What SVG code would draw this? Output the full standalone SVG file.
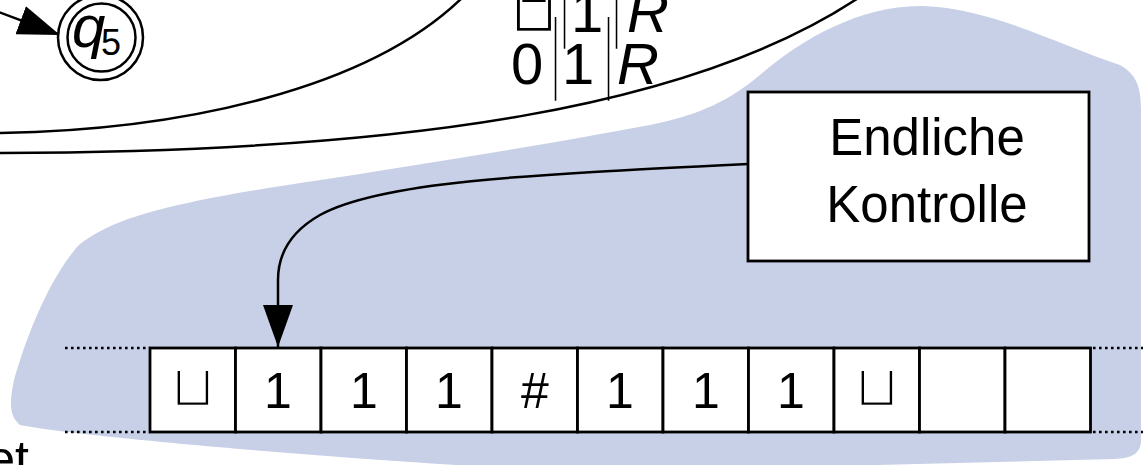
<svg xmlns="http://www.w3.org/2000/svg" width="1143" height="465" viewBox="0 0 1143 465">
<style>
.ln{fill:none;stroke:#000;stroke-width:2.5}
.cell{fill:#fff;stroke:#000;stroke-width:2.8}
.t{font-family:"Liberation Sans",Arial,sans-serif;fill:#000}
.dot{stroke:#000;stroke-width:2.6;stroke-dasharray:2.6 3.4;fill:none}
.cup{font-family:"DejaVu Sans",sans-serif;fill:#000;stroke:#fff;stroke-width:2.4}
.bar{font-family:"Inter",sans-serif;font-weight:100}
</style>
<defs>
<marker id="ah" viewBox="0 0 42 30" refX="42" refY="15" markerWidth="42" markerHeight="30" markerUnits="userSpaceOnUse" orient="auto">
<path d="M0,0 L42,15 L0,30 z" fill="#000"/>
</marker>
</defs>
<rect width="1143" height="465" fill="#fff"/>
<path id="blob" d="M20,425 C8,415 10,400 14,380 C24,345 45,285 77,247 C110,218 170,203 300,183 C420,165 560,142 650,125 C700,115 730,100 760,75 C800,40 860,5 923,6 C990,8 1060,45 1120,65 C1138,75 1141,90 1141,110 L1141,440 C1141,455 1130,458 1115,459 L600,472 C450,468 100,440 20,425 Z" fill="#c8d0e7"/>
<g id="connectors">
<path class="ln" d="M0,133 C180,130 370,90 465,-5"/>
<path class="ln" d="M-2,153 C400,152 700,110 870,-10"/>
<path class="ln" d="M-20,5 L60,35" marker-end="url(#ah)"/>
<path class="ln" d="M748,164 C520,175 380,182 320,215 C290,232 278,255 278,280 L278,347" marker-end="url(#ah)"/>
</g>
<g id="q5">
<circle cx="100.5" cy="37.5" r="42.5" fill="#fff" stroke="#000" stroke-width="2.5"/>
<circle cx="101.5" cy="37.5" r="34" fill="none" stroke="#000" stroke-width="2.5"/>
<text class="t" x="72" y="47" font-size="60" font-style="italic">q<tspan font-size="36" font-style="normal" x="101" dy="8">5</tspan></text>
</g>
<g id="label">
<line x1="517" y1="1" x2="551" y2="1" stroke="#000" stroke-width="2"/>
<text class="t" y="32" font-size="58"><tspan class="cup" x="509" font-size="64">⊔</tspan><tspan class="bar" x="555" font-size="70">|</tspan><tspan x="571">1</tspan><tspan class="bar" x="607" font-size="70">|</tspan><tspan x="627" font-style="italic">R</tspan></text>
<text class="t" y="84" font-size="58"><tspan x="511">0</tspan><tspan class="bar" x="546" font-size="70">|</tspan><tspan x="562">1</tspan><tspan class="bar" x="599" font-size="70">|</tspan><tspan x="617" font-style="italic">R</tspan></text>
</g>
<g id="control">
<rect x="748" y="92" width="341" height="169" fill="#fff" stroke="#000" stroke-width="2.8"/>
<text class="t" x="927" y="155" font-size="51" text-anchor="middle">Endliche</text>
<text class="t" x="927" y="222" font-size="51" text-anchor="middle">Kontrolle</text>
</g>
<g id="tape">
<line class="dot" x1="65" y1="348" x2="150" y2="348"/>
<line class="dot" x1="65" y1="432" x2="150" y2="432"/>
<line class="dot" x1="1093" y1="348" x2="1143" y2="348"/>
<line class="dot" x1="1093" y1="432" x2="1143" y2="432"/>
<rect class="cell" x="150" y="348" width="85.5" height="84"/>
<rect class="cell" x="235.5" y="348" width="85.5" height="84"/>
<rect class="cell" x="321" y="348" width="85.5" height="84"/>
<rect class="cell" x="406.5" y="348" width="85.5" height="84"/>
<rect class="cell" x="492" y="348" width="85.5" height="84"/>
<rect class="cell" x="577.5" y="348" width="85.5" height="84"/>
<rect class="cell" x="663" y="348" width="85.5" height="84"/>
<rect class="cell" x="748.5" y="348" width="85.5" height="84"/>
<rect class="cell" x="834" y="348" width="85.5" height="84"/>
<rect class="cell" x="919.5" y="348" width="85.5" height="84"/>
<rect class="cell" x="1005" y="348" width="85.5" height="84"/>
<g text-anchor="middle" font-size="50">
<text class="cup" x="193" y="406" font-size="58">⊔</text>
<text class="t" x="278" y="408">1</text>
<text class="t" x="364" y="408">1</text>
<text class="t" x="449" y="408">1</text>
<text class="t" x="535" y="408">#</text>
<text class="t" x="620" y="408">1</text>
<text class="t" x="706" y="408">1</text>
<text class="t" x="791" y="408">1</text>
<text class="cup" x="877" y="406" font-size="58">⊔</text>
</g>
</g>
<text class="t" x="29" y="476" font-size="50" text-anchor="end">et</text>
</svg>
